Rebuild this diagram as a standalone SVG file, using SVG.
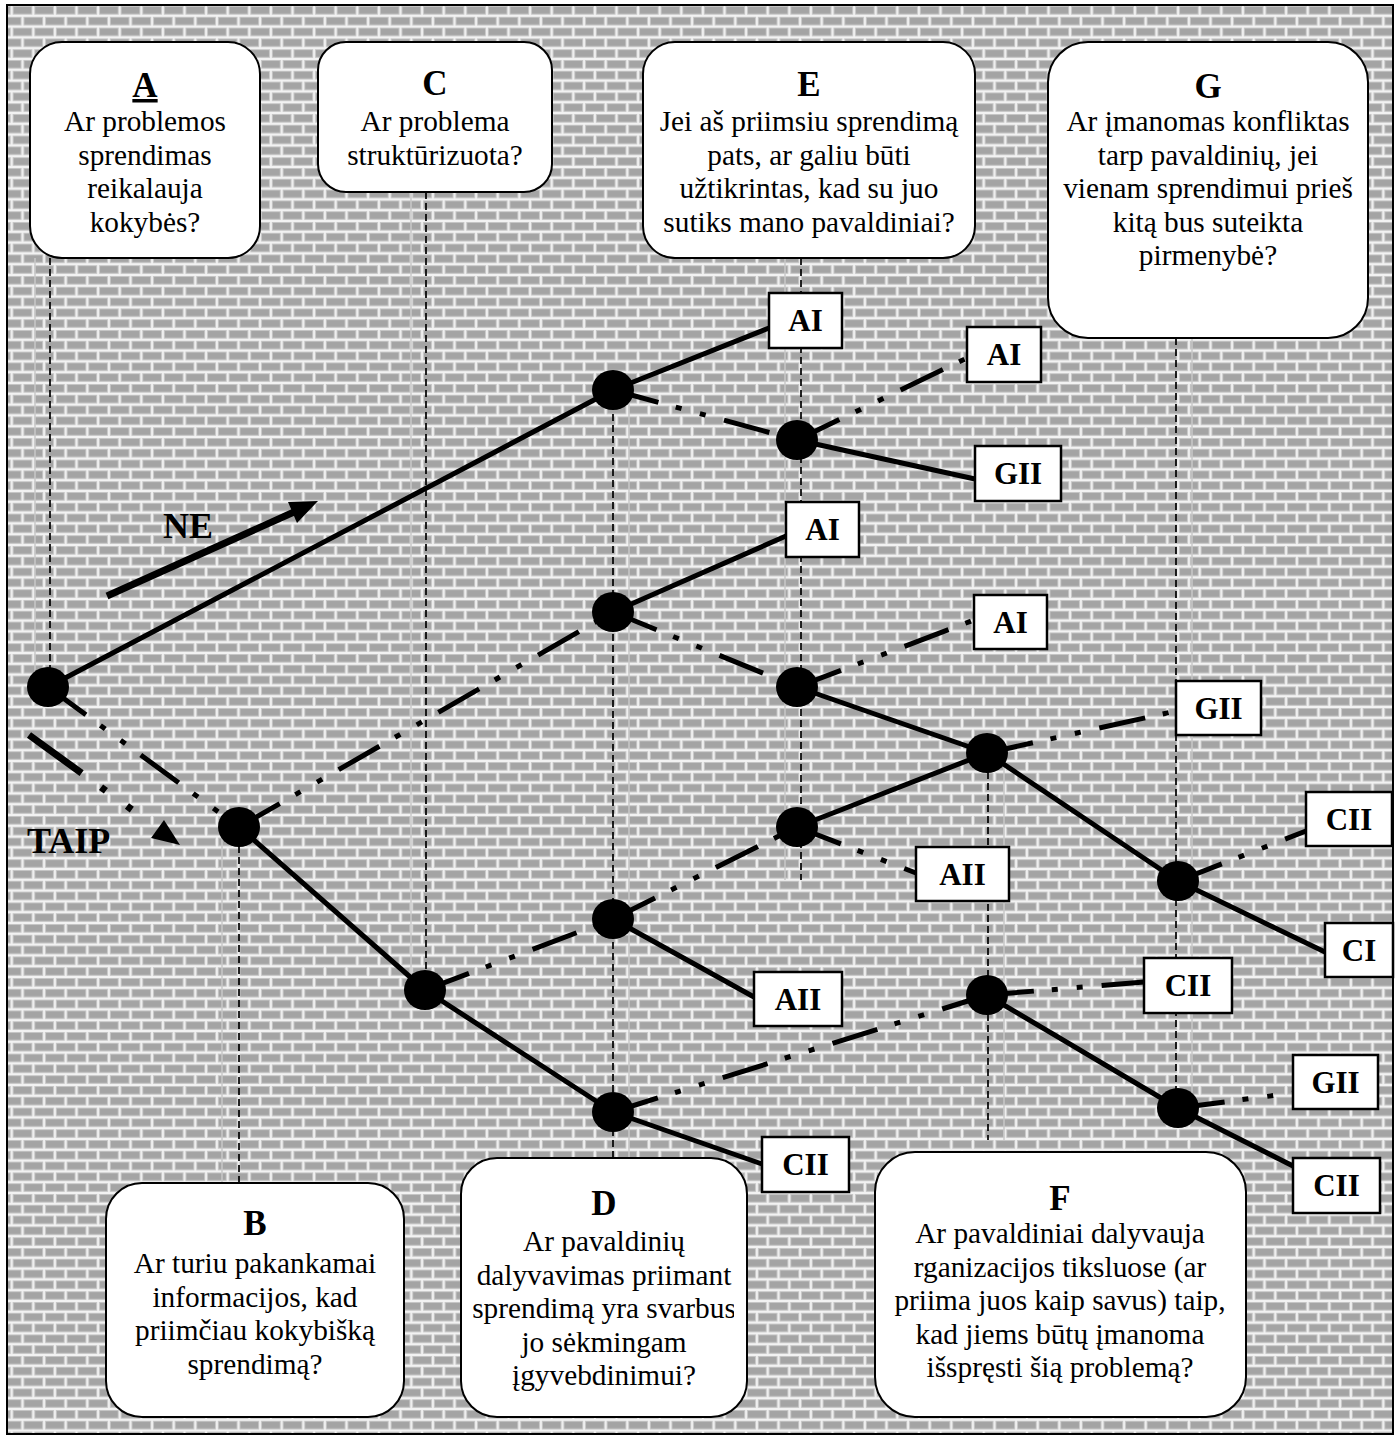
<svg xmlns="http://www.w3.org/2000/svg" width="1400" height="1441" viewBox="0 0 1400 1441">
  <defs>
    <!-- brick wall fill -->
    <pattern id="bricks" patternUnits="userSpaceOnUse" x="11.7" y="5" width="21.6" height="21.6">
      <rect x="0" y="0" width="21.6" height="21.6" fill="#f2f2f2"/>
      <rect x="1.4" y="1.5" width="18.8" height="7.6" fill="#a4a4a4" stroke="#c6c6c6" stroke-width="1"/>
      <rect x="-9.4" y="12.3" width="18.8" height="7.6" fill="#a4a4a4" stroke="#c6c6c6" stroke-width="1"/>
      <rect x="12.2" y="12.3" width="18.8" height="7.6" fill="#a4a4a4" stroke="#c6c6c6" stroke-width="1"/>
    </pattern>
    <clipPath id="clipD">
      <rect x="462" y="1160" width="272" height="255"/>
    </clipPath>
  </defs>
  <style>
    .q { fill:#fff; stroke:#000; stroke-width:2; }
    .leaf { fill:#fff; stroke:#000; stroke-width:2.5; }
    .title { font-family:"Liberation Serif","Times New Roman",serif; font-weight:bold; font-size:35px; text-anchor:middle; fill:#000; }
    .body { font-family:"Liberation Serif","Times New Roman",serif; font-size:29.3px; text-anchor:middle; fill:#000; }
    .lbl { font-family:"Liberation Serif","Times New Roman",serif; font-weight:bold; font-size:31px; text-anchor:middle; fill:#000; }
    .big { font-family:"Liberation Serif","Times New Roman",serif; font-weight:bold; font-size:36px; fill:#000; }
    .guide { stroke:#000; stroke-width:1.7; stroke-dasharray:7 4; fill:none; }
    .ghost { stroke:#c8c8c8; stroke-width:1.5; fill:none; }
    .solid { stroke:#000; stroke-width:5; fill:none; }
    .dd { stroke:#000; stroke-width:5; fill:none; stroke-dasharray:47 18 6 19 6 19; }
    .node { fill:#000; }
  </style>

  <!-- background and frame -->
  <rect x="0" y="0" width="1400" height="1441" fill="#fff"/>
  <rect x="7" y="5" width="1386" height="1429" fill="url(#bricks)" stroke="#000" stroke-width="2"/>

  <!-- vertical guide lines from questions to decision points -->
  <g id="guides">
    <line class="ghost" x1="35" y1="258" x2="35" y2="680"/>
    <line class="ghost" x1="411" y1="192" x2="411" y2="980"/>
    <line class="ghost" x1="785" y1="258" x2="785" y2="880"/>
    <line class="ghost" x1="1192" y1="338" x2="1192" y2="1100"/>
    <line class="ghost" x1="222" y1="830" x2="222" y2="1183"/>
    <line class="ghost" x1="629" y1="392" x2="629" y2="1158"/>
    <line class="ghost" x1="1004" y1="760" x2="1004" y2="1140"/>

    <line class="guide" x1="50" y1="258" x2="50" y2="668"/>
    <line class="guide" x1="426" y1="192" x2="426" y2="972"/>
    <line class="guide" x1="801" y1="258" x2="801" y2="880"/>
    <line class="guide" x1="1176" y1="338" x2="1176" y2="1092"/>
    <line class="guide" x1="239" y1="846" x2="239" y2="1183"/>
    <line class="guide" x1="613" y1="392" x2="613" y2="1158"/>
    <line class="guide" x1="988" y1="772" x2="988" y2="1140"/>
  </g>

  <!-- NE / TAIP direction markers -->
  <g id="direction-ne">
    <line x1="107" y1="596" x2="294" y2="512" stroke="#000" stroke-width="7"/>
    <polygon points="318,501 297,523 288,502" fill="#000"/>
    <text class="big" x="163" y="538">NE</text>
  </g>
  <g id="direction-taip">
    <line x1="29" y1="735" x2="160" y2="830" stroke="#000" stroke-width="7" stroke-dasharray="65 24 6 26 6 200"/>
    <polygon points="180,845 151,838 164,820" fill="#000"/>
    <text class="big" x="27" y="853">TAIP</text>
  </g>

  <!-- decision tree branches -->
  <g id="connectors">
    <line class="solid" x1="48" y1="687" x2="613" y2="390"/>
    <line class="dd" x1="48" y1="687" x2="239" y2="827"/>
    <line class="solid" x1="613" y1="390" x2="769" y2="328"/>
    <line class="dd" x1="613" y1="390" x2="797" y2="440"/>
    <line class="dd" x1="797" y1="440" x2="967" y2="358"/>
    <line class="solid" x1="797" y1="440" x2="975" y2="479"/>
    <line class="dd" x1="239" y1="827" x2="613" y2="612"/>
    <line class="solid" x1="239" y1="827" x2="425" y2="990"/>
    <line class="solid" x1="613" y1="612" x2="786" y2="536"/>
    <line class="dd" x1="613" y1="612" x2="797" y2="687"/>
    <line class="dd" x1="797" y1="687" x2="974" y2="620"/>
    <line class="solid" x1="797" y1="687" x2="987" y2="753"/>
    <line class="dd" x1="987" y1="753" x2="1176" y2="711"/>
    <line class="solid" x1="987" y1="753" x2="1178" y2="881"/>
    <line class="dd" x1="1178" y1="881" x2="1306" y2="831"/>
    <line class="solid" x1="1178" y1="881" x2="1325" y2="952"/>
    <line class="solid" x1="797" y1="827" x2="987" y2="753"/>
    <line class="dd" x1="797" y1="827" x2="916" y2="873"/>
    <line class="dd" x1="613" y1="919" x2="797" y2="827"/>
    <line class="solid" x1="613" y1="919" x2="754" y2="997"/>
    <line class="dd" x1="425" y1="990" x2="613" y2="919"/>
    <line class="solid" x1="425" y1="990" x2="613" y2="1112"/>
    <line class="dd" x1="613" y1="1112" x2="987" y2="995"/>
    <line class="solid" x1="613" y1="1112" x2="762" y2="1164"/>
    <line class="dd" x1="987" y1="995" x2="1144" y2="982"/>
    <line class="solid" x1="987" y1="995" x2="1178" y2="1108"/>
    <line class="dd" x1="1178" y1="1108" x2="1293" y2="1093"/>
    <line class="solid" x1="1178" y1="1108" x2="1293" y2="1166"/>
  </g>

  <!-- decision points -->
  <g id="points">
    <ellipse id="n0" class="node" cx="48" cy="687" rx="21" ry="20"/>
    <ellipse id="nB" class="node" cx="239" cy="827" rx="21" ry="20"/>
    <ellipse id="nC" class="node" cx="425" cy="990" rx="21" ry="20"/>
    <ellipse id="nD1" class="node" cx="613" cy="390" rx="21" ry="20"/>
    <ellipse id="nD2" class="node" cx="613" cy="612" rx="21" ry="20"/>
    <ellipse id="nD3" class="node" cx="613" cy="919" rx="21" ry="20"/>
    <ellipse id="nD4" class="node" cx="613" cy="1112" rx="21" ry="20"/>
    <ellipse id="nE1" class="node" cx="797" cy="440" rx="21" ry="20"/>
    <ellipse id="nE2" class="node" cx="797" cy="687" rx="21" ry="20"/>
    <ellipse id="nE3" class="node" cx="797" cy="827" rx="21" ry="20"/>
    <ellipse id="nF1" class="node" cx="987" cy="753" rx="21" ry="20"/>
    <ellipse id="nF2" class="node" cx="987" cy="995" rx="21" ry="20"/>
    <ellipse id="nG1" class="node" cx="1178" cy="881" rx="21" ry="20"/>
    <ellipse id="nG2" class="node" cx="1178" cy="1108" rx="21" ry="20"/>
  </g>

  <!-- outcome boxes -->
  <g id="leaf-ai-1"><rect class="leaf" x="769" y="293" width="73" height="55"/><text class="lbl" x="805.5" y="331">AI</text></g>
  <g id="leaf-ai-2"><rect class="leaf" x="967" y="327" width="74" height="55"/><text class="lbl" x="1004" y="365">AI</text></g>
  <g id="leaf-gii-1"><rect class="leaf" x="975" y="446" width="86" height="55"/><text class="lbl" x="1018" y="484">GII</text></g>
  <g id="leaf-ai-3"><rect class="leaf" x="786" y="502" width="73" height="55"/><text class="lbl" x="822.5" y="540">AI</text></g>
  <g id="leaf-ai-4"><rect class="leaf" x="974" y="595" width="73" height="54"/><text class="lbl" x="1010.5" y="633">AI</text></g>
  <g id="leaf-gii-2"><rect class="leaf" x="1176" y="681" width="85" height="54"/><text class="lbl" x="1218.5" y="719">GII</text></g>
  <g id="leaf-cii-1"><rect class="leaf" x="1306" y="792" width="86" height="54"/><text class="lbl" x="1349" y="830">CII</text></g>
  <g id="leaf-aii-1"><rect class="leaf" x="916" y="847" width="93" height="54"/><text class="lbl" x="962.5" y="885">AII</text></g>
  <g id="leaf-ci"><rect class="leaf" x="1325" y="923" width="68" height="54"/><text class="lbl" x="1359" y="961">CI</text></g>
  <g id="leaf-cii-2"><rect class="leaf" x="1144" y="958" width="88" height="55"/><text class="lbl" x="1188" y="996">CII</text></g>
  <g id="leaf-aii-2"><rect class="leaf" x="754" y="972" width="88" height="54"/><text class="lbl" x="798" y="1010">AII</text></g>
  <g id="leaf-cii-3"><rect class="leaf" x="762" y="1137" width="87" height="55"/><text class="lbl" x="805.5" y="1175">CII</text></g>
  <g id="leaf-gii-3"><rect class="leaf" x="1293" y="1055" width="85" height="54"/><text class="lbl" x="1335.5" y="1093">GII</text></g>
  <g id="leaf-cii-4"><rect class="leaf" x="1293" y="1158" width="87" height="55"/><text class="lbl" x="1336.5" y="1196">CII</text></g>

  <!-- question boxes -->
  <g id="q-a">
    <rect class="q" x="30" y="42" width="230" height="216" rx="32"/>
    <text class="title" x="145" y="97" text-decoration="underline">A</text>
    <text class="body" x="145" y="131">Ar problemos</text>
    <text class="body" x="145" y="164.5">sprendimas</text>
    <text class="body" x="145" y="198">reikalauja</text>
    <text class="body" x="145" y="231.5">kokybės?</text>
  </g>
  <g id="q-c">
    <rect class="q" x="318" y="42" width="234" height="150" rx="28"/>
    <text class="title" x="435" y="95">C</text>
    <text class="body" x="435" y="131">Ar problema</text>
    <text class="body" x="435" y="164.5">struktūrizuota?</text>
  </g>
  <g id="q-e">
    <rect class="q" x="643" y="42" width="332" height="216" rx="32"/>
    <text class="title" x="809" y="96">E</text>
    <text class="body" x="809" y="131">Jei aš priimsiu sprendimą</text>
    <text class="body" x="809" y="164.5">pats, ar galiu būti</text>
    <text class="body" x="809" y="198">užtikrintas, kad su juo</text>
    <text class="body" x="809" y="231.5">sutiks mano pavaldiniai?</text>
  </g>
  <g id="q-g">
    <rect class="q" x="1048" y="42" width="320" height="296" rx="40"/>
    <text class="title" x="1208" y="98">G</text>
    <text class="body" x="1208" y="131">Ar įmanomas konfliktas</text>
    <text class="body" x="1208" y="164.5">tarp pavaldinių, jei</text>
    <text class="body" x="1208" y="198">vienam sprendimui prieš</text>
    <text class="body" x="1208" y="231.5">kitą bus suteikta</text>
    <text class="body" x="1208" y="265">pirmenybė?</text>
  </g>
  <g id="q-b">
    <rect class="q" x="106" y="1183" width="298" height="234" rx="36"/>
    <text class="title" x="255" y="1235">B</text>
    <text class="body" x="255" y="1273">Ar turiu pakankamai</text>
    <text class="body" x="255" y="1306.5">informacijos, kad</text>
    <text class="body" x="255" y="1340">priimčiau kokybišką</text>
    <text class="body" x="255" y="1373.5">sprendimą?</text>
  </g>
  <g id="q-d">
    <rect class="q" x="461" y="1158" width="286" height="259" rx="36"/>
    <text class="title" x="604" y="1215">D</text>
    <g clip-path="url(#clipD)">
      <text class="body" x="604" y="1251">Ar pavaldinių</text>
      <text class="body" x="604" y="1284.5">dalyvavimas priimant</text>
      <text class="body" x="604" y="1318">sprendimą yra svarbus</text>
      <text class="body" x="604" y="1351.5">jo sėkmingam</text>
      <text class="body" x="604" y="1385">įgyvebdinimui?</text>
    </g>
  </g>
  <g id="q-f">
    <rect class="q" x="875" y="1152" width="371" height="265" rx="40"/>
    <text class="title" x="1060" y="1210">F</text>
    <text class="body" x="1060" y="1243">Ar pavaldiniai dalyvauja</text>
    <text class="body" x="1060" y="1276.5">rganizacijos tiksluose (ar</text>
    <text class="body" x="1060" y="1310">priima juos kaip savus) taip,</text>
    <text class="body" x="1060" y="1343.5">kad jiems būtų įmanoma</text>
    <text class="body" x="1060" y="1377">išspręsti šią problemą?</text>
  </g>
</svg>
